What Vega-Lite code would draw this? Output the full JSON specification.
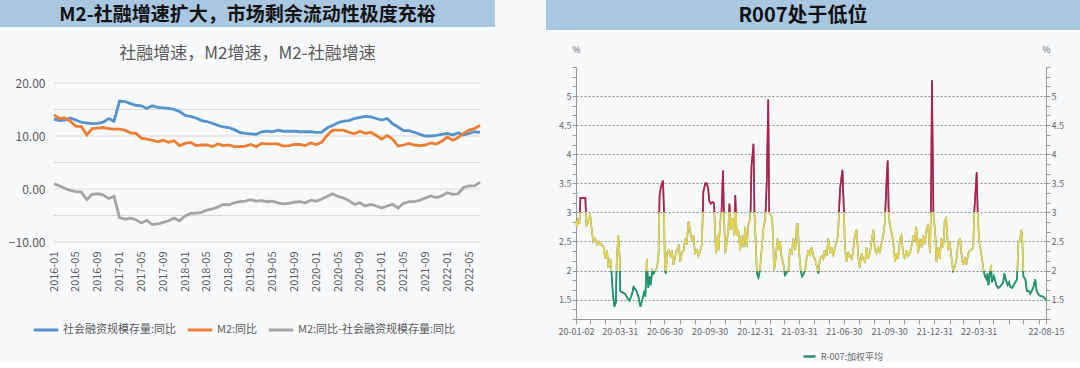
{
  "$schema": "https://vega.github.io/schema/vega-lite/v6.json",
  "background": "#f8f9fb",
  "padding": 0,
  "config": {"font": "Noto Sans CJK SC", "view": {"stroke": null}},
  "datasets": {
    "macro": [
      {"m":"2016-01","sf":13.2,"m2":14.0,"d":1.0},{"m":"2016-02","sf":12.9,"m2":13.3,"d":0.6},{"m":"2016-03","sf":13.0,"m2":13.4,"d":0.1},{"m":"2016-04","sf":13.4,"m2":12.8,"d":-0.25},
      {"m":"2016-05","sf":13.0,"m2":11.8,"d":-0.5},{"m":"2016-06","sf":12.6,"m2":11.8,"d":-0.6},{"m":"2016-07","sf":12.45,"m2":10.2,"d":-2.0},{"m":"2016-08","sf":12.35,"m2":11.4,"d":-1.0},
      {"m":"2016-09","sf":12.4,"m2":11.5,"d":-0.9},{"m":"2016-10","sf":12.6,"m2":11.6,"d":-1.1},{"m":"2016-11","sf":13.3,"m2":11.4,"d":-1.8},{"m":"2016-12","sf":12.8,"m2":11.3,"d":-1.4},
      {"m":"2017-01","sf":16.6,"m2":11.3,"d":-5.4},{"m":"2017-02","sf":16.5,"m2":11.1,"d":-5.7},{"m":"2017-03","sf":16.1,"m2":10.6,"d":-5.5},{"m":"2017-04","sf":15.8,"m2":10.5,"d":-5.8},
      {"m":"2017-05","sf":15.7,"m2":9.6,"d":-6.4},{"m":"2017-06","sf":15.2,"m2":9.4,"d":-5.9},{"m":"2017-07","sf":15.7,"m2":9.2,"d":-6.7},{"m":"2017-08","sf":15.4,"m2":8.9,"d":-6.6},
      {"m":"2017-09","sf":15.3,"m2":9.2,"d":-6.3},{"m":"2017-10","sf":15.2,"m2":8.8,"d":-6.0},{"m":"2017-11","sf":15.0,"m2":9.1,"d":-5.5},{"m":"2017-12","sf":14.6,"m2":8.2,"d":-6.0},
      {"m":"2018-01","sf":13.9,"m2":8.6,"d":-5.1},{"m":"2018-02","sf":13.7,"m2":8.8,"d":-4.6},{"m":"2018-03","sf":13.4,"m2":8.2,"d":-4.55},{"m":"2018-04","sf":12.9,"m2":8.3,"d":-4.4},
      {"m":"2018-05","sf":12.7,"m2":8.3,"d":-4.0},{"m":"2018-06","sf":12.4,"m2":8.0,"d":-3.75},{"m":"2018-07","sf":12.0,"m2":8.5,"d":-3.4},{"m":"2018-08","sf":11.7,"m2":8.2,"d":-2.9},
      {"m":"2018-09","sf":11.6,"m2":8.3,"d":-3.0},{"m":"2018-10","sf":11.2,"m2":8.0,"d":-2.6},{"m":"2018-11","sf":10.7,"m2":8.0,"d":-2.4},{"m":"2018-12","sf":10.5,"m2":8.1,"d":-2.3},
      {"m":"2019-01","sf":10.4,"m2":8.4,"d":-2.0},{"m":"2019-02","sf":10.3,"m2":8.0,"d":-2.3},{"m":"2019-03","sf":10.8,"m2":8.6,"d":-2.2},{"m":"2019-04","sf":10.9,"m2":8.5,"d":-2.4},
      {"m":"2019-05","sf":10.8,"m2":8.5,"d":-2.3},{"m":"2019-06","sf":11.1,"m2":8.5,"d":-2.6},{"m":"2019-07","sf":10.9,"m2":8.1,"d":-2.8},{"m":"2019-08","sf":10.9,"m2":8.2,"d":-2.7},
      {"m":"2019-09","sf":10.9,"m2":8.4,"d":-2.5},{"m":"2019-10","sf":10.8,"m2":8.4,"d":-2.4},{"m":"2019-11","sf":10.8,"m2":8.2,"d":-2.6},{"m":"2019-12","sf":10.8,"m2":8.7,"d":-2.1},
      {"m":"2020-01","sf":10.7,"m2":8.4,"d":-2.3},{"m":"2020-02","sf":10.7,"m2":8.8,"d":-1.9},{"m":"2020-03","sf":11.5,"m2":10.1,"d":-1.4},{"m":"2020-04","sf":12.0,"m2":11.1,"d":-0.9},
      {"m":"2020-05","sf":12.5,"m2":11.1,"d":-1.4},{"m":"2020-06","sf":12.8,"m2":11.1,"d":-1.7},{"m":"2020-07","sf":12.9,"m2":10.7,"d":-2.2},{"m":"2020-08","sf":13.3,"m2":10.4,"d":-2.9},
      {"m":"2020-09","sf":13.5,"m2":10.9,"d":-2.6},{"m":"2020-10","sf":13.7,"m2":10.5,"d":-3.2},{"m":"2020-11","sf":13.6,"m2":10.7,"d":-2.9},{"m":"2020-12","sf":13.3,"m2":10.1,"d":-3.2},
      {"m":"2021-01","sf":13.0,"m2":9.4,"d":-3.6},{"m":"2021-02","sf":13.3,"m2":10.1,"d":-3.2},{"m":"2021-03","sf":12.3,"m2":9.4,"d":-2.9},{"m":"2021-04","sf":11.7,"m2":8.1,"d":-3.6},
      {"m":"2021-05","sf":11.0,"m2":8.3,"d":-2.7},{"m":"2021-06","sf":11.0,"m2":8.6,"d":-2.4},{"m":"2021-07","sf":10.7,"m2":8.3,"d":-2.4},{"m":"2021-08","sf":10.3,"m2":8.2,"d":-2.1},
      {"m":"2021-09","sf":10.0,"m2":8.3,"d":-1.7},{"m":"2021-10","sf":10.0,"m2":8.7,"d":-1.3},{"m":"2021-11","sf":10.1,"m2":8.5,"d":-1.6},{"m":"2021-12","sf":10.3,"m2":9.0,"d":-1.3},
      {"m":"2022-01","sf":10.5,"m2":9.8,"d":-0.7},{"m":"2022-02","sf":10.2,"m2":9.2,"d":-1.0},{"m":"2022-03","sf":10.6,"m2":9.7,"d":-0.9},{"m":"2022-04","sf":10.2,"m2":10.5,"d":0.3},
      {"m":"2022-05","sf":10.5,"m2":11.1,"d":0.6},{"m":"2022-06","sf":10.8,"m2":11.4,"d":0.6},{"m":"2022-07","sf":10.7,"m2":12.0,"d":1.3}
    ],
    "r007": [
      {"d":"2020-01-02","v":2.85},{"d":"2020-01-04","v":2.75},{"d":"2020-01-07","v":2.9},{"d":"2020-01-09","v":2.8},{"d":"2020-01-11","v":3.25},{"d":"2020-01-21","v":3.25},{"d":"2020-01-23","v":2.8},{"d":"2020-01-24","v":2.75},{"d":"2020-01-28","v":2.9},{"d":"2020-01-31","v":2.95},
      {"d":"2020-02-03","v":2.7},{"d":"2020-02-06","v":2.5},{"d":"2020-02-10","v":2.55},{"d":"2020-02-14","v":2.45},{"d":"2020-02-17","v":2.5},{"d":"2020-02-20","v":2.45},{"d":"2020-02-24","v":2.45},{"d":"2020-02-27","v":2.4},
      {"d":"2020-03-02","v":2.2},{"d":"2020-03-05","v":2.35},{"d":"2020-03-08","v":2.05},{"d":"2020-03-12","v":2.2},{"d":"2020-03-14","v":2.0},{"d":"2020-03-17","v":1.6},{"d":"2020-03-20","v":1.38},{"d":"2020-03-23","v":1.45},{"d":"2020-03-25","v":2.2},{"d":"2020-03-28","v":2.6},{"d":"2020-03-31","v":2.2},
      {"d":"2020-04-01","v":1.65},{"d":"2020-04-04","v":1.63},{"d":"2020-04-11","v":1.6},{"d":"2020-04-16","v":1.52},{"d":"2020-04-20","v":1.48},{"d":"2020-04-25","v":1.6},{"d":"2020-04-28","v":1.72},
      {"d":"2020-05-04","v":1.65},{"d":"2020-05-08","v":1.55},{"d":"2020-05-12","v":1.38},{"d":"2020-05-16","v":1.5},{"d":"2020-05-20","v":1.65},{"d":"2020-05-22","v":1.55},{"d":"2020-05-25","v":2.2},{"d":"2020-05-28","v":1.7},{"d":"2020-05-31","v":1.9},
      {"d":"2020-06-02","v":1.75},{"d":"2020-06-05","v":2.0},{"d":"2020-06-08","v":1.95},{"d":"2020-06-11","v":2.0},{"d":"2020-06-15","v":2.05},{"d":"2020-06-18","v":2.3},{"d":"2020-06-20","v":3.3},{"d":"2020-06-23","v":3.45},{"d":"2020-06-27","v":3.55},{"d":"2020-06-29","v":3.0},
      {"d":"2020-07-01","v":2.0},{"d":"2020-07-03","v":1.95},{"d":"2020-07-05","v":2.3},{"d":"2020-07-08","v":2.35},{"d":"2020-07-12","v":2.25},{"d":"2020-07-15","v":2.35},{"d":"2020-07-18","v":2.1},{"d":"2020-07-22","v":2.25},{"d":"2020-07-25","v":2.35},{"d":"2020-07-29","v":2.45},
      {"d":"2020-08-01","v":2.15},{"d":"2020-08-04","v":2.3},{"d":"2020-08-08","v":2.35},{"d":"2020-08-11","v":2.55},{"d":"2020-08-14","v":2.45},{"d":"2020-08-18","v":2.85},{"d":"2020-08-21","v":2.7},{"d":"2020-08-25","v":2.5},{"d":"2020-08-28","v":2.6},{"d":"2020-08-31","v":2.3},
      {"d":"2020-09-04","v":2.35},{"d":"2020-09-07","v":2.25},{"d":"2020-09-11","v":2.35},{"d":"2020-09-14","v":2.45},{"d":"2020-09-16","v":3.0},{"d":"2020-09-17","v":3.35},{"d":"2020-09-21","v":3.5},{"d":"2020-09-24","v":3.5},{"d":"2020-09-27","v":3.4},{"d":"2020-09-29","v":3.2},
      {"d":"2020-10-02","v":3.15},{"d":"2020-10-06","v":3.18},{"d":"2020-10-09","v":3.15},{"d":"2020-10-11","v":2.6},{"d":"2020-10-13","v":2.3},{"d":"2020-10-16","v":2.6},{"d":"2020-10-18","v":2.35},{"d":"2020-10-21","v":2.8},{"d":"2020-10-24","v":3.0},{"d":"2020-10-27","v":3.72},{"d":"2020-10-29","v":2.9},
      {"d":"2020-11-01","v":2.3},{"d":"2020-11-04","v":2.5},{"d":"2020-11-07","v":2.7},{"d":"2020-11-09","v":3.15},{"d":"2020-11-12","v":2.7},{"d":"2020-11-15","v":2.9},{"d":"2020-11-19","v":2.6},{"d":"2020-11-21","v":3.3},{"d":"2020-11-24","v":2.6},{"d":"2020-11-27","v":2.7},
      {"d":"2020-12-01","v":2.35},{"d":"2020-12-04","v":2.6},{"d":"2020-12-08","v":2.4},{"d":"2020-12-11","v":2.75},{"d":"2020-12-14","v":2.4},{"d":"2020-12-18","v":2.8},{"d":"2020-12-20","v":2.85},{"d":"2020-12-22","v":3.0},{"d":"2020-12-24","v":3.8},{"d":"2020-12-28","v":4.18},{"d":"2020-12-30","v":3.0},
      {"d":"2021-01-01","v":2.6},{"d":"2021-01-04","v":1.95},{"d":"2021-01-07","v":1.88},{"d":"2021-01-10","v":2.0},{"d":"2021-01-14","v":2.4},{"d":"2021-01-17","v":2.7},{"d":"2021-01-21","v":2.9},{"d":"2021-01-24","v":3.5},{"d":"2021-01-27","v":4.94},{"d":"2021-01-29","v":3.0},
      {"d":"2021-02-01","v":2.95},{"d":"2021-02-04","v":2.9},{"d":"2021-02-06","v":2.5},{"d":"2021-02-08","v":2.0},{"d":"2021-02-11","v":2.2},{"d":"2021-02-15","v":2.55},{"d":"2021-02-17","v":2.35},{"d":"2021-02-20","v":2.5},{"d":"2021-02-23","v":2.25},{"d":"2021-02-27","v":2.1},
      {"d":"2021-03-02","v":1.92},{"d":"2021-03-06","v":1.97},{"d":"2021-03-09","v":2.0},{"d":"2021-03-12","v":2.35},{"d":"2021-03-16","v":2.3},{"d":"2021-03-19","v":2.55},{"d":"2021-03-23","v":2.35},{"d":"2021-03-26","v":2.8},{"d":"2021-03-28","v":2.8},{"d":"2021-03-31","v":2.3},
      {"d":"2021-04-03","v":2.0},{"d":"2021-04-06","v":1.9},{"d":"2021-04-08","v":1.93},{"d":"2021-04-12","v":2.0},{"d":"2021-04-15","v":2.2},{"d":"2021-04-19","v":2.35},{"d":"2021-04-22","v":2.25},{"d":"2021-04-25","v":2.4},{"d":"2021-04-29","v":2.25},
      {"d":"2021-05-02","v":2.2},{"d":"2021-05-05","v":2.1},{"d":"2021-05-09","v":1.95},{"d":"2021-05-12","v":2.2},{"d":"2021-05-16","v":2.25},{"d":"2021-05-19","v":2.2},{"d":"2021-05-22","v":2.35},{"d":"2021-05-26","v":2.25},{"d":"2021-05-29","v":2.55},
      {"d":"2021-06-02","v":2.3},{"d":"2021-06-05","v":2.4},{"d":"2021-06-08","v":2.25},{"d":"2021-06-12","v":2.4},{"d":"2021-06-15","v":2.5},{"d":"2021-06-18","v":2.6},{"d":"2021-06-22","v":3.4},{"d":"2021-06-25","v":3.6},{"d":"2021-06-27","v":3.73},{"d":"2021-06-30","v":3.0},
      {"d":"2021-07-02","v":2.4},{"d":"2021-07-05","v":2.15},{"d":"2021-07-09","v":2.3},{"d":"2021-07-12","v":2.25},{"d":"2021-07-16","v":2.2},{"d":"2021-07-19","v":2.35},{"d":"2021-07-22","v":2.6},{"d":"2021-07-26","v":2.7},{"d":"2021-07-29","v":2.25},
      {"d":"2021-08-01","v":2.05},{"d":"2021-08-05","v":2.3},{"d":"2021-08-08","v":2.2},{"d":"2021-08-12","v":2.15},{"d":"2021-08-15","v":2.4},{"d":"2021-08-18","v":2.2},{"d":"2021-08-22","v":2.3},{"d":"2021-08-25","v":2.5},{"d":"2021-08-29","v":2.7},
      {"d":"2021-09-01","v":2.35},{"d":"2021-09-04","v":2.3},{"d":"2021-09-08","v":2.4},{"d":"2021-09-11","v":2.3},{"d":"2021-09-14","v":2.45},{"d":"2021-09-18","v":2.6},{"d":"2021-09-21","v":2.8},{"d":"2021-09-25","v":3.6},{"d":"2021-09-27","v":3.89},{"d":"2021-09-29","v":3.0},
      {"d":"2021-10-01","v":2.8},{"d":"2021-10-05","v":2.65},{"d":"2021-10-08","v":2.5},{"d":"2021-10-12","v":2.15},{"d":"2021-10-15","v":2.3},{"d":"2021-10-18","v":2.2},{"d":"2021-10-22","v":2.55},{"d":"2021-10-25","v":2.6},{"d":"2021-10-28","v":2.3},
      {"d":"2021-11-01","v":2.2},{"d":"2021-11-04","v":2.35},{"d":"2021-11-08","v":2.25},{"d":"2021-11-11","v":2.3},{"d":"2021-11-14","v":2.4},{"d":"2021-11-18","v":2.6},{"d":"2021-11-21","v":2.5},{"d":"2021-11-24","v":2.75},{"d":"2021-11-28","v":2.3},
      {"d":"2021-12-01","v":2.55},{"d":"2021-12-05","v":2.4},{"d":"2021-12-08","v":2.6},{"d":"2021-12-11","v":2.45},{"d":"2021-12-15","v":2.7},{"d":"2021-12-18","v":2.8},{"d":"2021-12-22","v":2.3},{"d":"2021-12-24","v":3.0},{"d":"2021-12-26","v":5.27},{"d":"2021-12-29","v":3.0},{"d":"2021-12-30","v":2.9},
      {"d":"2022-01-02","v":2.6},{"d":"2022-01-04","v":2.15},{"d":"2022-01-08","v":2.4},{"d":"2022-01-11","v":2.2},{"d":"2022-01-14","v":2.55},{"d":"2022-01-18","v":2.4},{"d":"2022-01-21","v":2.85},{"d":"2022-01-24","v":2.9},{"d":"2022-01-28","v":2.35},{"d":"2022-01-31","v":2.5},
      {"d":"2022-02-04","v":2.2},{"d":"2022-02-07","v":2.0},{"d":"2022-02-10","v":2.05},{"d":"2022-02-14","v":2.2},{"d":"2022-02-17","v":2.45},{"d":"2022-02-21","v":2.55},{"d":"2022-02-24","v":2.3},{"d":"2022-02-27","v":2.1},
      {"d":"2022-03-03","v":2.2},{"d":"2022-03-06","v":2.1},{"d":"2022-03-10","v":2.3},{"d":"2022-03-13","v":2.35},{"d":"2022-03-16","v":2.35},{"d":"2022-03-20","v":2.4},{"d":"2022-03-22","v":3.0},{"d":"2022-03-25","v":3.4},{"d":"2022-03-27","v":3.69},{"d":"2022-03-29","v":3.0},
      {"d":"2022-04-01","v":2.5},{"d":"2022-04-04","v":2.35},{"d":"2022-04-07","v":2.2},{"d":"2022-04-10","v":2.0},{"d":"2022-04-13","v":1.9},{"d":"2022-04-16","v":1.85},{"d":"2022-04-18","v":1.95},{"d":"2022-04-20","v":1.75},{"d":"2022-04-23","v":1.95},{"d":"2022-04-25","v":2.1},{"d":"2022-04-27","v":1.8},
      {"d":"2022-05-01","v":1.9},{"d":"2022-05-03","v":1.85},{"d":"2022-05-06","v":1.75},{"d":"2022-05-10","v":1.7},{"d":"2022-05-13","v":1.72},{"d":"2022-05-16","v":1.75},{"d":"2022-05-20","v":1.8},{"d":"2022-05-22","v":1.95},{"d":"2022-05-25","v":1.85},{"d":"2022-05-29","v":1.75},
      {"d":"2022-06-01","v":1.8},{"d":"2022-06-03","v":1.72},{"d":"2022-06-07","v":1.7},{"d":"2022-06-10","v":1.75},{"d":"2022-06-14","v":1.8},{"d":"2022-06-17","v":1.85},{"d":"2022-06-20","v":2.5},{"d":"2022-06-23","v":2.5},{"d":"2022-06-26","v":2.7},{"d":"2022-06-28","v":2.5},{"d":"2022-06-30","v":1.9},
      {"d":"2022-07-04","v":1.85},{"d":"2022-07-07","v":1.65},{"d":"2022-07-11","v":1.65},{"d":"2022-07-14","v":1.6},{"d":"2022-07-17","v":1.65},{"d":"2022-07-20","v":1.7},{"d":"2022-07-24","v":1.85},{"d":"2022-07-27","v":1.65},{"d":"2022-07-30","v":1.6},
      {"d":"2022-08-02","v":1.57},{"d":"2022-08-09","v":1.55},{"d":"2022-08-15","v":1.5}
    ]
  },
  "columns": 2,
  "align": "none",
  "spacing": {"row": 15, "column": 51},
  "resolve": {"scale": {"color": "independent"}, "legend": {"color": "independent"}},
  "concat": [
    {
      "width": 495, "height": 27,
      "data": {"values": [{"t": "M2-社融增速扩大，市场剩余流动性极度充裕"}]},
      "view": {"fill": "#a9c7e1", "stroke": null},
      "mark": {"type": "text", "fontSize": 19, "fontWeight": "bold", "color": "#111111", "baseline": "middle", "align": "center", "dy": 1},
      "encoding": {"text": {"field": "t"}}
    },
    {
      "width": 534, "height": 30,
      "data": {"values": [{"t": "R007处于低位"}]},
      "view": {"fill": "#a9c7e1", "stroke": null},
      "mark": {"type": "text", "fontSize": 20, "fontWeight": "bold", "color": "#111111", "baseline": "middle", "align": "center", "dy": 1, "dx": -10},
      "encoding": {"text": {"field": "t"}}
    },
    {
      "width": 495, "height": 159,
      "title": {"text": "社融增速，M2增速，M2-社融增速", "fontSize": 17, "fontWeight": "normal", "color": "#595959", "anchor": "middle", "frame": "group", "offset": 14},
      "encoding": {
        "x": {"field": "m", "type": "ordinal",
          "scale": {"type": "point", "padding": 0, "range": [54, 480],
            "domain": ["2016-01","2016-02","2016-03","2016-04","2016-05","2016-06","2016-07","2016-08","2016-09","2016-10","2016-11","2016-12",
              "2017-01","2017-02","2017-03","2017-04","2017-05","2017-06","2017-07","2017-08","2017-09","2017-10","2017-11","2017-12",
              "2018-01","2018-02","2018-03","2018-04","2018-05","2018-06","2018-07","2018-08","2018-09","2018-10","2018-11","2018-12",
              "2019-01","2019-02","2019-03","2019-04","2019-05","2019-06","2019-07","2019-08","2019-09","2019-10","2019-11","2019-12",
              "2020-01","2020-02","2020-03","2020-04","2020-05","2020-06","2020-07","2020-08","2020-09","2020-10","2020-11","2020-12",
              "2021-01","2021-02","2021-03","2021-04","2021-05","2021-06","2021-07","2021-08","2021-09","2021-10","2021-11","2021-12",
              "2022-01","2022-02","2022-03","2022-04","2022-05","2022-06","2022-07"]},
          "axis": {"values": ["2016-01","2016-05","2016-09","2017-01","2017-05","2017-09","2018-01","2018-05","2018-09","2019-01","2019-05","2019-09","2020-01","2020-05","2020-09","2021-01","2021-05","2021-09","2022-01","2022-05"],
            "labelAngle": 270, "ticks": false, "domain": false, "grid": false, "title": null, "labelFontSize": 11, "labelColor": "#595959", "labelPadding": 9}}
      },
      "layer": [
        {"data": {"values": [{"g": -10}, {"g": -5}, {"g": 0}, {"g": 5}, {"g": 10}, {"g": 15}, {"g": 20}]},
         "mark": {"type": "rule", "color": "#d9d9d9", "strokeWidth": 1},
         "encoding": {
           "x": {"datum": "2016-01", "type": "ordinal"},
           "x2": {"datum": "2022-07"},
           "y": {"field": "g", "type": "quantitative", "scale": {"domain": [-10, 20], "nice": false},
             "axis": {"values": [-10,-5,0,5,10,15,20], "format": ".2f", "offset": -53, "domain": false, "ticks": false, "grid": false, "labelFontSize": 12, "labelColor": "#595959", "labelPadding": 8, "title": null}}
         }},
        {"data": {"name": "macro"},
         "mark": {"type": "line", "strokeWidth": 2.8},
         "encoding": {
           "y": {"field": "sf", "type": "quantitative", "axis": {"title": null}},
           "color": {"datum": "社会融资规模存量:同比",
             "scale": {"domain": ["社会融资规模存量:同比","M2:同比","M2:同比-社会融资规模存量:同比"], "range": ["#5593cf","#ed7d31","#a5a5a5"]},
             "legend": {"orient": "none", "legendX": 32, "legendY": 233, "direction": "horizontal", "title": null, "symbolType": "stroke", "symbolSize": 600, "symbolStrokeWidth": 3, "labelFontSize": 11, "labelLimit": 300, "labelColor": "#595959", "columnPadding": 4, "labelOffset": 3}}
         }},
        {"data": {"name": "macro"},
         "mark": {"type": "line", "strokeWidth": 2.8},
         "encoding": {"y": {"field": "m2", "type": "quantitative", "axis": {"title": null}}, "color": {"datum": "M2:同比"}}},
        {"data": {"name": "macro"},
         "mark": {"type": "line", "strokeWidth": 2.8},
         "encoding": {"y": {"field": "d", "type": "quantitative", "axis": {"title": null}}, "color": {"datum": "M2:同比-社会融资规模存量:同比"}}}
      ]
    },
    {
      "width": 470, "height": 252,
      "data": {"name": "r007"},
      "encoding": {
        "x": {"field": "d", "type": "temporal",
          "scale": {"type": "utc", "domain": [{"year":2020,"month":1,"date":2,"utc":true},{"year":2022,"month":8,"date":15,"utc":true}]},
          "axis": {"values": [
            {"year":2020,"month":1,"date":2,"utc":true},{"year":2020,"month":1,"date":31,"utc":true},{"year":2020,"month":2,"date":29,"utc":true},{"year":2020,"month":3,"date":31,"utc":true},{"year":2020,"month":4,"date":30,"utc":true},{"year":2020,"month":5,"date":31,"utc":true},{"year":2020,"month":6,"date":30,"utc":true},{"year":2020,"month":7,"date":31,"utc":true},{"year":2020,"month":8,"date":31,"utc":true},{"year":2020,"month":9,"date":30,"utc":true},{"year":2020,"month":10,"date":31,"utc":true},{"year":2020,"month":11,"date":30,"utc":true},{"year":2020,"month":12,"date":31,"utc":true},
            {"year":2021,"month":1,"date":31,"utc":true},{"year":2021,"month":2,"date":28,"utc":true},{"year":2021,"month":3,"date":31,"utc":true},{"year":2021,"month":4,"date":30,"utc":true},{"year":2021,"month":5,"date":31,"utc":true},{"year":2021,"month":6,"date":30,"utc":true},{"year":2021,"month":7,"date":31,"utc":true},{"year":2021,"month":8,"date":31,"utc":true},{"year":2021,"month":9,"date":30,"utc":true},{"year":2021,"month":10,"date":31,"utc":true},{"year":2021,"month":11,"date":30,"utc":true},{"year":2021,"month":12,"date":31,"utc":true},
            {"year":2022,"month":1,"date":31,"utc":true},{"year":2022,"month":2,"date":28,"utc":true},{"year":2022,"month":3,"date":31,"utc":true},{"year":2022,"month":4,"date":30,"utc":true},{"year":2022,"month":5,"date":31,"utc":true},{"year":2022,"month":6,"date":30,"utc":true},{"year":2022,"month":7,"date":31,"utc":true},{"year":2022,"month":8,"date":15,"utc":true}],
            "format": "%y-%m-%d",
            "labelExpr": "indexof(['20-01-02','20-03-31','20-06-30','20-09-30','20-12-31','21-03-31','21-06-30','21-09-30','21-12-31','22-03-31','22-08-15'], datum.label) >= 0 ? datum.label : ''",
            "labelOverlap": false, "labelFlush": false, "tickSize": 5, "tickColor": "#999999", "domainColor": "#999999", "grid": false, "title": null, "labelFontSize": 9, "labelColor": "#666666", "labelPadding": 3}}
      },
      "layer": [
        {"mark": {"type": "line", "strokeWidth": 1.6},
         "encoding": {
           "y": {"field": "v", "type": "quantitative", "scale": {"domain": [1.16667, 5.5], "nice": false, "zero": false},
             "axis": {"orient": "left", "values": [1.16667,1.33333,1.5,1.66667,1.83333,2,2.16667,2.33333,2.5,2.66667,2.83333,3,3.16667,3.33333,3.5,3.66667,3.83333,4,4.16667,4.33333,4.5,4.66667,4.83333,5,5.16667,5.33333,5.5],
               "format": ".1~f",
               "labelExpr": "abs(datum.value*2 - round(datum.value*2)) < 0.01 && datum.value > 1.4 && datum.value < 5.1 ? datum.label : ''",
               "labelOverlap": false, "labelFlush": false,
               "title": "%", "titleAngle": 0, "titleX": 0, "titleY": -13, "titleAlign": "center", "titleBaseline": "bottom", "titleFontSize": 9, "titleFontWeight": "normal", "titleColor": "#666666",
               "grid": true, "gridColor": "#8c8c8c", "gridDash": [2, 2],
               "gridOpacity": {"condition": {"test": "abs(datum.value*2 - round(datum.value*2)) < 0.01 && datum.value > 1.4 && datum.value < 5.1", "value": 1}, "value": 0},
               "domainColor": "#999999", "tickColor": "#999999", "tickSize": 4, "labelFontSize": 9, "labelColor": "#666666", "labelPadding": 1, "minExtent": 30}},
           "color": {"datum": "R-007:加权平均", "type": "nominal", "scale": {"domain": ["R-007:加权平均"], "range": ["#2b8a7e"]},
             "legend": {"orient": "none", "legendX": 226, "legendY": 282, "direction": "horizontal", "title": null, "symbolType": "stroke", "symbolSize": 144, "symbolStrokeWidth": 2.5, "labelFontSize": 9, "labelColor": "#666666"}}
         }},
        {"mark": {"type": "line", "strokeWidth": 1.6,
           "stroke": {"gradient": "linear", "x1": 0, "y1": 0, "x2": 0, "y2": 1,
             "stops": [{"offset": 0, "color": "#c0174b"}, {"offset": 0.5835, "color": "#c0174b"}, {"offset": 0.5835, "color": "#e8d24f"}, {"offset": 0.8406, "color": "#e8d24f"}, {"offset": 0.8406, "color": "#23956a"}, {"offset": 1, "color": "#23956a"}]}},
         "encoding": {
           "y": {"field": "v", "type": "quantitative",
             "axis": {"orient": "right", "values": [1.16667,1.33333,1.5,1.66667,1.83333,2,2.16667,2.33333,2.5,2.66667,2.83333,3,3.16667,3.33333,3.5,3.66667,3.83333,4,4.16667,4.33333,4.5,4.66667,4.83333,5,5.16667,5.33333,5.5],
               "format": ".1~f",
               "labelExpr": "abs(datum.value*2 - round(datum.value*2)) < 0.01 && datum.value > 1.4 && datum.value < 5.1 ? datum.label : ''",
               "labelOverlap": false, "labelFlush": false,
               "title": "%", "titleAngle": 0, "titleX": 0, "titleY": -13, "titleAlign": "center", "titleBaseline": "bottom", "titleFontSize": 9, "titleFontWeight": "normal", "titleColor": "#666666",
               "grid": false, "domainColor": "#999999", "tickColor": "#999999", "tickSize": 4, "labelFontSize": 9, "labelColor": "#666666", "labelPadding": 1}}
         }}
      ],
      "resolve": {"axis": {"y": "independent"}}
    }
  ]
}
